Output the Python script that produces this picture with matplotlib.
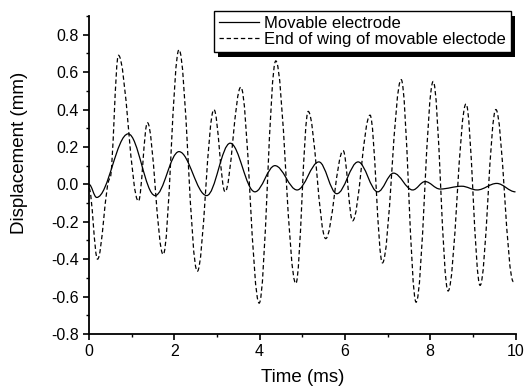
import matplotlib
matplotlib.use("Agg")
import matplotlib.pyplot as plt
from matplotlib.path import Path
from matplotlib.patches import PathPatch, Rectangle
from matplotlib.lines import Line2D
from matplotlib.ticker import MultipleLocator, FormatStrFormatter

plt.rcParams['font.family'] = ['Liberation Sans', 'DejaVu Sans']
plt.rcParams['axes.unicode_minus'] = False

# Data (turning points of each trace)
solid_t = [0.0, 0.18, 0.92, 1.55, 2.11, 2.76, 3.31, 3.89, 4.36, 4.88, 5.39, 5.81,
           6.31, 6.77, 7.14, 7.59, 7.88, 8.23, 8.74, 9.10, 9.56, 10.0]
solid_v = [0.0, -0.07, 0.27, -0.06, 0.175, -0.06, 0.22, -0.04, 0.10, -0.03, 0.12, -0.05,
           0.12, -0.04, 0.06, -0.03, 0.015, -0.025, -0.01, -0.03, 0.005, -0.04]

dash_t = [0.0, 0.2, 0.49, 0.69, 1.16, 1.37, 1.74, 2.11, 2.54, 2.93, 3.19, 3.56, 3.99,
          4.38, 4.85, 5.14, 5.55, 5.96, 6.18, 6.59, 6.88, 7.32, 7.67, 8.07, 8.42, 8.84,
          9.17, 9.54, 9.95]
dash_v = [-0.02, -0.40, 0.03, 0.69, -0.09, 0.33, -0.375, 0.72, -0.465, 0.40, -0.04, 0.52,
          -0.635, 0.66, -0.53, 0.39, -0.29, 0.18, -0.195, 0.37, -0.42, 0.56, -0.63, 0.55,
          -0.57, 0.43, -0.54, 0.40, -0.52]

labels = ["Movable electrode", "End of wing of movable electode"]
x_ticks = [0, 2, 4, 6, 8, 10]
y_ticks = [-0.8, -0.6, -0.4, -0.2, 0.0, 0.2, 0.4, 0.6, 0.8]

W, H = 525, 388


def smooth_path(ts, vs, k=0.364):
    """Path through turning points, horizontal tangent at each (Bezier segments)."""
    verts = [(ts[0], vs[0])]
    codes = [Path.MOVETO]
    for i in range(len(ts) - 1):
        t0, v0, t1, v1 = ts[i], vs[i], ts[i + 1], vs[i + 1]
        dt = t1 - t0
        verts += [(t0 + k * dt, v0), (t1 - k * dt, v1), (t1, v1)]
        codes += [Path.CURVE4] * 3
    return Path(verts, codes)


fig = plt.figure(figsize=(W / 100, H / 100), dpi=100)
ax = fig.add_axes([89 / W, 1 - 334 / H, (515.5 - 89) / W, (334 - 16) / H])

dash_style = (0, (3.5, 2.2))
ax.add_patch(PathPatch(smooth_path(solid_t, solid_v), fill=False, edgecolor='black',
                       linewidth=0.9))
ax.add_patch(PathPatch(smooth_path(dash_t, dash_v), fill=False, edgecolor='black',
                       linewidth=0.9, linestyle=dash_style))

ax.set_xlim(0, 10)
ax.set_ylim(-0.8, 0.9)
ax.set_xticks(x_ticks)
ax.set_yticks(y_ticks)
ax.xaxis.set_minor_locator(MultipleLocator(1))
ax.yaxis.set_minor_locator(MultipleLocator(0.1))
ax.yaxis.set_major_formatter(FormatStrFormatter('%.1f'))
ax.xaxis.set_major_formatter(FormatStrFormatter('%d'))

for s in ['top', 'right']:
    ax.spines[s].set_visible(False)
for s in ['left', 'bottom']:
    ax.spines[s].set_linewidth(1.3)

ax.tick_params(which='major', direction='out', length=4.5, width=1.2, labelsize=11.5,
               colors='black', pad=3)
ax.tick_params(which='minor', direction='out', length=2.5, width=1.0)

ax.set_xlabel("Time (ms)", fontsize=13.5)
ax.set_ylabel("Displacement (mm)", fontsize=13.5)
ax.xaxis.set_label_coords(0.5, 1 - (377 - 16) / (334 - 16), transform=ax.transAxes)
ax.yaxis.set_label_coords((20 - 89) / (515.5 - 89), 1 - (153 - 16) / (334 - 16),
                          transform=ax.transAxes)
ax.xaxis.label.set_va('center')
ax.yaxis.label.set_va('center')

handles = [Line2D([], [], color='black', linewidth=0.9),
           Line2D([], [], color='black', linewidth=0.9, linestyle=dash_style)]
leg = fig.legend(handles, labels, loc='upper left',
                 bbox_to_anchor=(214 / W, 1 - 11 / H), borderaxespad=0,
                 fontsize=12, frameon=True, fancybox=False, edgecolor='black',
                 facecolor='white', framealpha=1.0,
                 handlelength=2.4, handletextpad=0.3, labelspacing=0.05,
                 borderpad=0.3)
leg.get_frame().set_linewidth(1.0)
leg.set_zorder(5)

# black drop shadow below the legend box
fig.canvas.draw()
bb = leg.get_frame().get_window_extent(fig.canvas.get_renderer())
shadow = Rectangle((bb.x0 + 4, bb.y0 - 5), bb.width, bb.height, transform=None,
                   facecolor='black', edgecolor='none', zorder=4)
fig.add_artist(shadow)

fig.savefig("out.png", dpi=100)
